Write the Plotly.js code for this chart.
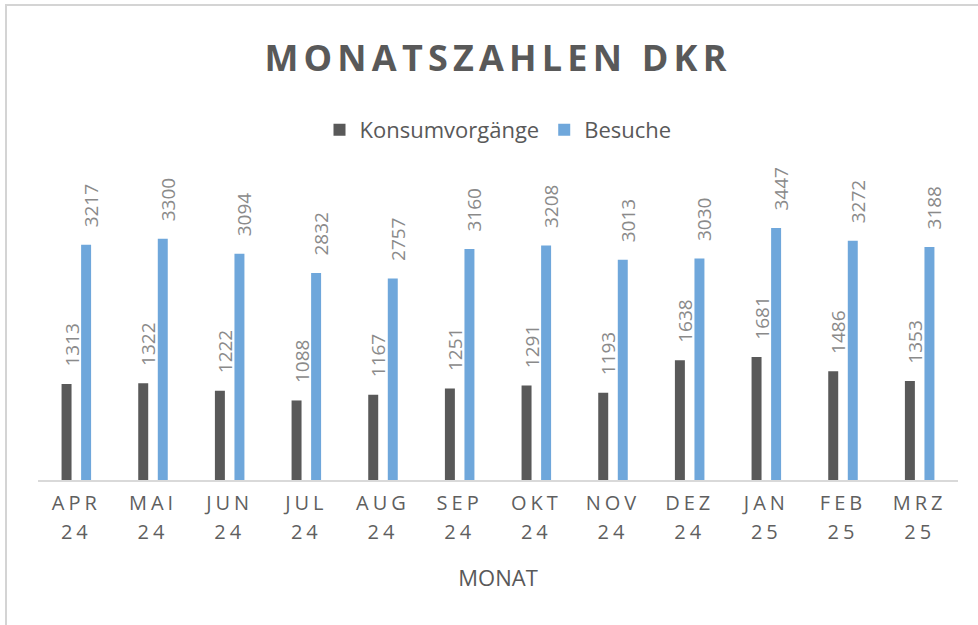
<!DOCTYPE html>
<html>
<head>
<meta charset="utf-8">
<script src="https://cdn.plot.ly/plotly-3.0.1.min.js"></script>
<style>
  html, body { margin: 0; padding: 0; background: #ffffff; }
  #chart { width: 978px; height: 625px; position: relative; }
  .frame-top { position: absolute; left: 5px; top: 4px; width: 973px; height: 2px; background: #d4d4d4; }
  .frame-left { position: absolute; left: 5px; top: 4px; width: 2px; height: 621px; background: #d4d4d4; }
</style>
</head>
<body>
<div id="chart"></div>
<div class="frame-top"></div>
<div class="frame-left"></div>
<script>
// ---- data ----
var months = ['APR 24', 'MAI 24', 'JUN 24', 'JUL 24', 'AUG 24', 'SEP 24',
              'OKT 24', 'NOV 24', 'DEZ 24', 'JAN 25', 'FEB 25', 'MRZ 25'];
var konsumvorgaenge = [1313, 1322, 1222, 1088, 1167, 1251, 1291, 1193, 1638, 1681, 1486, 1353];
var besuche = [3217, 3300, 3094, 2832, 2757, 3160, 3208, 3013, 3030, 3447, 3272, 3188];
var seriesNames = ['Konsumvorgänge', 'Besuche'];
var tickLabels = months.map(function (m) { return m.replace(' ', '<br>'); });

var FONT = '"Open Sans", "Noto Sans", sans-serif';
var LABEL_PAD = '\u2002\u00a0'; // spacing between bar top and rotated value label

function labelsFor(values) {
  return values.map(function (v) { return LABEL_PAD + String(v); });
}

var traces = [
  {
    type: 'bar', name: seriesNames[0], x: months, y: konsumvorgaenge,
    marker: { color: '#595959' },
    text: labelsFor(konsumvorgaenge), textposition: 'outside', textangle: -90,
    constraintext: 'none',
    textfont: { family: FONT, size: 19, color: '#8a8a8a' },
    cliponaxis: false, hoverinfo: 'none'
  },
  {
    type: 'bar', name: seriesNames[1], x: months, y: besuche,
    marker: { color: '#6fa7db' },
    text: labelsFor(besuche), textposition: 'outside', textangle: -90,
    constraintext: 'none',
    textfont: { family: FONT, size: 19, color: '#8a8a8a' },
    cliponaxis: false, hoverinfo: 'none'
  }
];

var layout = {
  width: 978, height: 625,
  margin: { l: 38, r: 20, t: 151, b: 145 },
  paper_bgcolor: '#ffffff', plot_bgcolor: '#ffffff',
  font: { family: FONT, color: '#595959' },
  barmode: 'group', bargap: 0.49, bargroupgap: 0.49,
  title: {
    text: '<b>MONATSZAHLEN DKR</b>',
    font: { family: FONT, size: 36, color: '#595959' },
    x: 0.5, xref: 'paper', xanchor: 'center',
    y: 1 - 58 / 625, yref: 'container', yanchor: 'middle'
  },
  showlegend: true,
  legend: {
    orientation: 'h', x: 0.5, xanchor: 'center', y: 1.064, yanchor: 'middle',
    font: { family: FONT, size: 22, color: '#595959' },
    traceorder: 'normal', itemwidth: 30
  },
  xaxis: {
    type: 'category',
    tickmode: 'array', tickvals: months, ticktext: tickLabels,
    tickfont: { family: FONT, size: 20, color: '#5f5f5f' },
    showline: true, linecolor: '#d9d9d9', linewidth: 2,
    showgrid: false, zeroline: false, ticks: '', ticklabelstandoff: 4,
    title: { text: 'MONAT', font: { family: FONT, size: 22, color: '#595959' }, standoff: 30 },
    fixedrange: true
  },
  yaxis: {
    range: [0, 4500], visible: false, showgrid: false, zeroline: false, fixedrange: true
  }
};

Plotly.newPlot('chart', traces, layout, { displayModeBar: false, staticPlot: true }).then(function () {
  var t = document.querySelector('.gtitle');
  if (t) { t.style.letterSpacing = '5.2px'; }
  document.querySelectorAll('.xtick text').forEach(function (el) {
    el.style.letterSpacing = '4px';
    el.querySelectorAll('tspan.line').forEach(function (ts, i) {
      if (i > 0) ts.setAttribute('dy', '1.45em');
    });
  });
  document.querySelectorAll('text.bartext').forEach(function (el) {
    el.setAttribute('transform', 'translate(5,0) ' + (el.getAttribute('transform') || ''));
  });
});
</script>
</body>
</html>
